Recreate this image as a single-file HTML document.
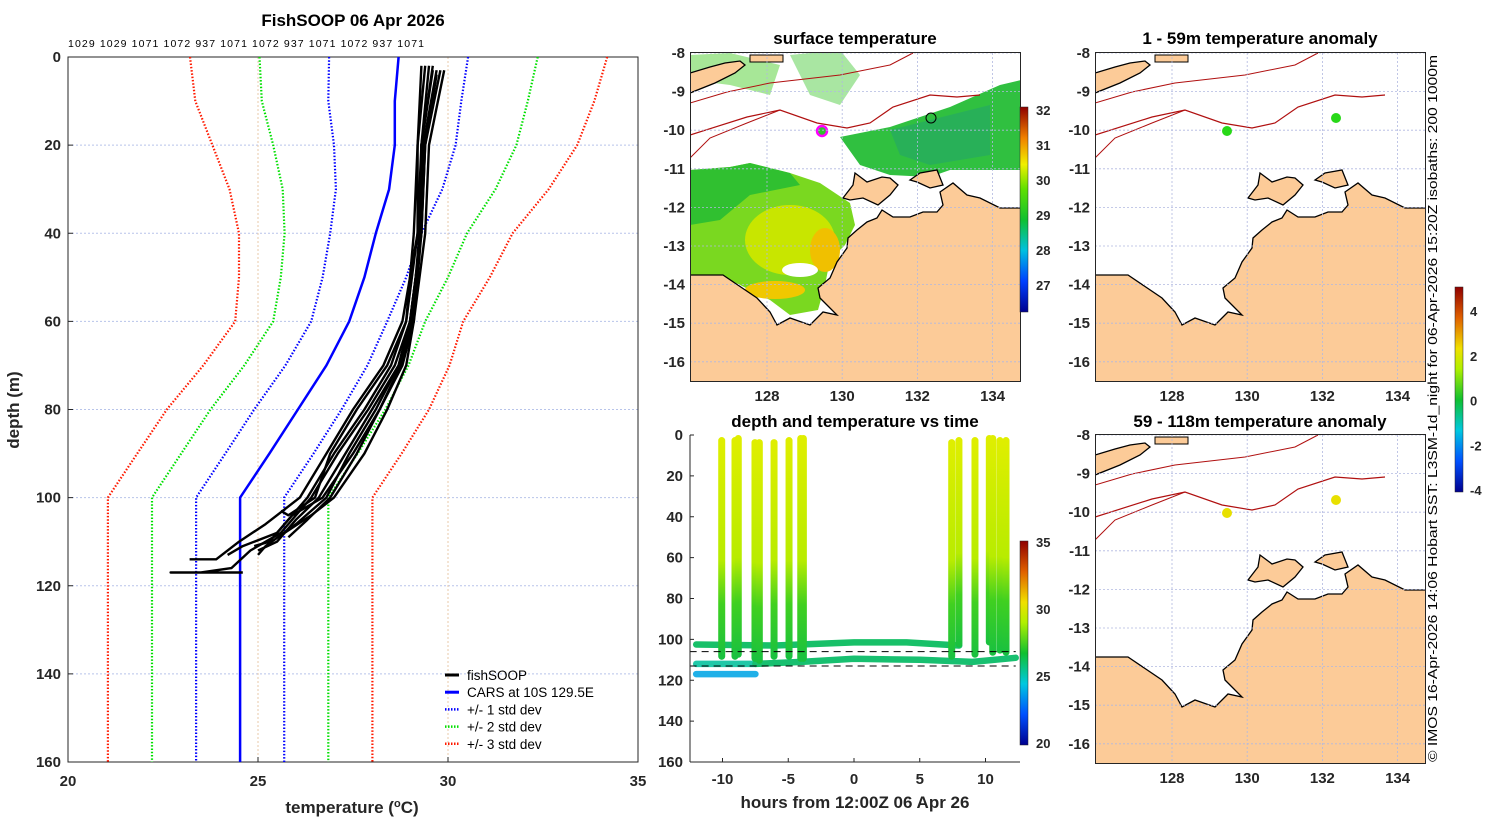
<!DOCTYPE html>
<html><head><meta charset="utf-8"><style>
html,body{margin:0;padding:0;background:#fff;}
svg{display:block;font-family:"Liberation Sans","DejaVu Sans",sans-serif;}
.tk{font-size:15px;font-weight:bold;fill:#262626;}
.ttl{font-size:17px;font-weight:bold;fill:#000;}
</style></head><body>
<svg id="fig" width="1500" height="820" viewBox="0 0 1500 820" xmlns="http://www.w3.org/2000/svg">
<defs>
<linearGradient id="sstcb" x1="0" y1="1" x2="0" y2="0">
<stop offset="0" stop-color="#00008f"/><stop offset="0.15" stop-color="#0040ff"/><stop offset="0.3" stop-color="#00c0e0"/><stop offset="0.45" stop-color="#10c030"/><stop offset="0.6" stop-color="#60e000"/><stop offset="0.72" stop-color="#f0f000"/><stop offset="0.85" stop-color="#f08000"/><stop offset="1" stop-color="#8f0000"/></linearGradient>
<linearGradient id="cbt" x1="0" y1="1" x2="0" y2="0">
<stop offset="0" stop-color="#00008f"/><stop offset="0.15" stop-color="#0050ff"/><stop offset="0.3" stop-color="#00c8e0"/><stop offset="0.45" stop-color="#10c030"/><stop offset="0.6" stop-color="#b0f000"/><stop offset="0.7" stop-color="#f0e000"/><stop offset="0.85" stop-color="#e06000"/><stop offset="1" stop-color="#8f0000"/></linearGradient>
<linearGradient id="castg" x1="0" y1="0" x2="0" y2="1">
<stop offset="0" stop-color="#e0ee00"/><stop offset="0.55" stop-color="#b8ec00"/><stop offset="0.75" stop-color="#40d020"/><stop offset="1" stop-color="#18c040"/></linearGradient>
<clipPath id="cm1"><rect x="0" y="7" width="331" height="330"/></clipPath>
</defs>
<g id="left"></g>
<g id="maps"></g>
<g id="tp"></g>
<text x="0" y="0" transform="translate(1437,762) rotate(-90)" font-size="13" textLength="707" lengthAdjust="spacingAndGlyphs" fill="#000">© IMOS 16-Apr-2026 14:06 Hobart SST: L3SM-1d_night for 06-Apr-2026 15:20Z isobaths: 200  1000m</text>
</svg>
<script>
const NS="http://www.w3.org/2000/svg";
function mk(tag,attrs,parent,txt){const e=document.createElementNS(NS,tag);for(const k in attrs)e.setAttribute(k,attrs[k]);if(txt!==undefined)e.textContent=txt;parent.appendChild(e);return e;}

// ===== Profile chart data =====
const castIds=["1029","1029","1071","1072","937","1071","1072","937","1071","1072","937","1071"];
const xTicks=[20,25,30,35];
const yTicks=[0,20,40,60,80,100,120,140,160];
const carsDepth=[0,10,20,30,40,50,60,70,80,90,100,160];
const carsMean=[28.7,28.6,28.6,28.45,28.1,27.8,27.4,26.8,26.05,25.3,24.53,24.53];
const carsStd=[1.83,1.75,1.6,1.4,1.2,1.1,1.0,1.08,1.15,1.16,1.16,1.16];
const prof1=[[2,29.6],[20,29.3],[40,29.3],[60,29.0],[70,28.7],[80,28.0],[90,27.3],[100,26.6],[105,26.0],[110,25.5],[112,25.0]];
const prof2=[[3,29.9],[20,29.5],[40,29.4],[60,29.1],[70,28.8],[80,28.2],[90,27.6],[100,26.9],[105,26.3],[109,25.8]];
const prof3=[[2,29.4],[20,29.2],[40,29.2],[60,28.9],[70,28.5],[80,27.8],[90,27.0],[100,26.3],[108,25.5],[111,24.6],[113,24.2]];
const prof4=[[4,29.7],[20,29.4],[40,29.3],[60,29.1],[70,28.9],[80,28.4],[90,27.8],[100,27.0],[104,26.4],[108,25.7]];
const prof5=[[2,29.5],[20,29.3],[40,29.2],[60,28.8],[70,28.3],[80,27.5],[90,26.8],[100,26.1],[106,25.2],[110,24.5],[114,23.9],[114,23.2]];
const prof6=[[3,29.8],[20,29.4],[40,29.3],[60,29.0],[70,28.6],[80,27.9],[90,27.1],[100,26.4],[108,25.6],[112,24.8],[116,24.3],[117,23.5],[117,22.7],[117,24.6]];
const prof7=[[2,29.3],[20,29.2],[40,29.1],[60,28.9],[70,28.4],[80,27.6],[90,26.9],[100,26.5],[104,25.8],[103,25.6]];
const prof8=[[3,29.6],[20,29.3],[40,29.3],[60,29.0],[70,28.7],[80,28.1],[90,27.4],[100,26.8],[106,26.0],[111,25.2],[113,25.0]];
const prof9=[[3,29.7],[20,29.35],[40,29.25],[60,29.05],[70,28.75],[80,28.2],[90,27.5],[100,26.7],[104,25.9],[110,25.3],[111,24.9]];
const profiles=[prof1,prof2,prof3,prof4,prof5,prof6,prof7,prof8,prof9];

const L={x0:68,x1:638,y0:57,y1:762,t0:20,t1:35,d0:0,d1:160};
const xT=t=>L.x0+(t-L.t0)/(L.t1-L.t0)*(L.x1-L.x0);
const yD=d=>L.y0+(d-L.d0)/(L.d1-L.d0)*(L.y1-L.y0);
const left=document.getElementById('left');
yTicks.slice(1,-1).forEach(d=>{const g=mk('line',{x1:L.x0,x2:L.x1,y1:yD(d),y2:yD(d),stroke:'#b8c4ea','stroke-dasharray':'2,2','stroke-width':1},left);});
xTicks.slice(1,-1).forEach(t=>{const g=mk('line',{x1:xT(t),x2:xT(t),y1:L.y0,y2:L.y1,stroke:'#e8c8a8','stroke-dasharray':'2,2','stroke-width':1},left);});
mk('rect',{x:L.x0,y:L.y0,width:L.x1-L.x0,height:L.y1-L.y0,fill:'none',stroke:'#262626','stroke-width':1},left);
const stdCols={1:'#0000ff',2:'#00e000',3:'#ff1a00'};
[3,2,1].forEach(k=>{[-1,1].forEach(s=>{
  const pts=carsDepth.map((d,i)=>xT(carsMean[i]+s*k*carsStd[i]).toFixed(1)+','+yD(d).toFixed(1)).join(' ');
  const p=mk('polyline',{points:pts,fill:'none',stroke:stdCols[k],'stroke-width':2.2,'stroke-dasharray':'1.5,1.8'},left);
  
});});
const cp=mk('polyline',{points:carsDepth.map((d,i)=>xT(carsMean[i]).toFixed(1)+','+yD(d).toFixed(1)).join(' '),fill:'none',stroke:'#0000ff','stroke-width':2.5},left);

profiles.forEach((pr,i)=>{const p=mk('polyline',{points:pr.map(q=>xT(q[1]).toFixed(1)+','+yD(q[0]).toFixed(1)).join(' '),fill:'none',stroke:'#000','stroke-width':2.4,'stroke-linejoin':'round'},left);
});
xTicks.forEach(t=>{mk('line',{x1:xT(t),x2:xT(t),y1:L.y1,y2:L.y1-5,stroke:'#262626'},left);const e=mk('text',{x:xT(t),y:786,'text-anchor':'middle',class:'tk'},left,t);});
yTicks.forEach(d=>{mk('line',{x1:L.x0,x2:L.x0+5,y1:yD(d),y2:yD(d),stroke:'#262626'},left);const e=mk('text',{x:61,y:yD(d)+5,'text-anchor':'end',class:'tk'},left,d);});
let e=mk('text',{x:353,y:26,'text-anchor':'middle',class:'ttl'},left,'FishSOOP 06 Apr 2026');
e=mk('text',{x:68,y:47,'font-size':10.5,fill:'#000',textLength:356,lengthAdjust:'spacing'},left,castIds.join(' '));
e=mk('text',{x:352,y:813,'text-anchor':'middle','font-size':17,'font-weight':'bold',fill:'#262626'},left,'');
e.innerHTML='temperature (<tspan baseline-shift="super" font-size="11">o</tspan>C)';
e=mk('text',{x:0,y:0,transform:'translate(19,410) rotate(-90)','text-anchor':'middle','font-size':17,'font-weight':'bold',fill:'#262626'},left,'depth (m)');
const leg=[['fishSOOP','#000',false],['CARS at 10S 129.5E','#0000ff',false],['+/- 1 std dev','#0000ff',true],['+/- 2 std dev','#00e000',true],['+/- 3 std dev','#ff1a00',true]];
leg.forEach((l,i)=>{const y=675+i*17.2;const g=mk('g',{},left);
 const a={x1:445,x2:459,y1:y,y2:y,stroke:l[1],'stroke-width':l[2]?2.5:3};if(l[2])a['stroke-dasharray']='1.5,1.5';mk('line',a,g);
 mk('text',{x:467,y:y+5,'font-size':13.5,fill:'#000'},g,l[0]);});

// ===== Maps =====
const maps=document.getElementById('maps');
const mainland=[[0,230],[33,230],[67,253],[80,267],[87,280],[100,273],[120,280],[133,267],[147,270],[130,253],[128,243],[140,233],[147,217],[157,203],[158,193],[167,185],[177,177],[187,173],[192,165],[203,172],[220,172],[233,167],[247,167],[253,160],[250,147],[263,138],[277,150],[290,153],[310,163],[331,163],[331,340],[0,340]];
const melville=[[153,153],[163,140],[165,128],[177,137],[192,132],[200,133],[208,140],[200,150],[188,160],[173,153],[160,155]];
const cobourg=[[220,135],[230,128],[247,125],[253,140],[240,143],[227,137]];
const timor=[[0,28],[20,22],[35,18],[50,16],[55,20],[45,28],[25,38],[0,48]];
const iso1=[[0,90],[57,72],[90,65],[127,78],[157,83],[180,78],[203,62],[240,50],[267,52],[290,50]];
const iso2=[[0,58],[37,47],[80,38],[150,30],[200,20],[223,8]];
const iso3=[[0,113],[20,93],[57,78],[90,65]];
const pstr=a=>a.map(p=>p.join(',')).join(' ');
function drawMap(ox,oy,name,extra){
 const g=mk('g',{transform:`translate(${ox},${oy})`,'clip-path':'url(#cm1)'},maps);
 if(extra)extra(g);
 [iso2,iso3].forEach(a=>mk('polyline',{points:pstr(a),fill:'none',stroke:'#b01010','stroke-width':1},g));
 mk('polyline',{points:pstr(iso1),fill:'none',stroke:'#b01010','stroke-width':1.2},g);
 [mainland,melville,cobourg,timor].forEach(a=>mk('polygon',{points:pstr(a),fill:'#fccb98',stroke:'#000','stroke-width':1.3},g));
 mk('rect',{x:60,y:10,width:33,height:7,fill:'#fccb98',stroke:'#000'},g);
 for(let i=0;i<4;i++){const x=77+i*75.2;mk('line',{x1:x,x2:x,y1:0,y2:337,stroke:'#b0b8e0','stroke-dasharray':'2,2','stroke-width':0.8},g);}
 for(let j=0;j<9;j++){const y=8+j*38.6;mk('line',{x1:0,x2:331,y1:y,y2:y,stroke:'#b0b8e0','stroke-dasharray':'2,2','stroke-width':0.8},g);}
 mk('rect',{x:0.5,y:7.5,width:330,height:329,fill:'none',stroke:'#262626'},g);
}
function mapTicks(ox,oy,lonLabels){
 const lats=[-8,-9,-10,-11,-12,-13,-14,-15,-16];
 lats.forEach((v,j)=>{const t=mk('text',{x:ox-5,y:oy+8+j*38.6+5,'text-anchor':'end',class:'tk'},maps,v);});
 if(lonLabels)[128,130,132,134].forEach((v,i)=>{const t=mk('text',{x:ox+77+i*75.2,y:oy+356,'text-anchor':'middle',class:'tk'},maps,v);});
}
drawMap(690,45,'surface-temperature-map',g=>{
 mk('polygon',{points:'0,125 40,122 60,118 100,128 130,138 160,158 165,180 155,200 140,215 135,240 128,265 100,270 80,255 40,235 0,235',fill:'#7ad820'},g);
 mk('polygon',{points:'0,125 40,122 60,118 100,128 110,140 60,150 30,175 0,180',fill:'#30c030'},g);
 mk('ellipse',{cx:100,cy:195,rx:45,ry:35,fill:'#c8e600'},g);
 mk('ellipse',{cx:135,cy:205,rx:15,ry:22,fill:'#f0c000'},g);
 mk('ellipse',{cx:85,cy:245,rx:30,ry:9,fill:'#f0c800'},g);
 mk('ellipse',{cx:110,cy:225,rx:18,ry:7,fill:'#ffffff'},g);
 mk('polygon',{points:'150,92 200,82 260,62 310,40 331,35 331,125 260,125 240,132 200,130 170,120',fill:'#30c040'},g);
 mk('polygon',{points:'200,85 260,70 300,60 300,110 240,120 210,110',fill:'#28b058'},g);
 mk('polygon',{points:'0,10 40,8 90,20 80,50 40,40 0,35',fill:'#50d030',opacity:0.5},g);
 mk('polygon',{points:'100,10 150,5 170,30 150,60 120,50',fill:'#40c830',opacity:0.45},g);
 mk('circle',{cx:132,cy:86,r:5,fill:'#30c030',stroke:'#ff00ff','stroke-width':2.5},g);
 mk('circle',{cx:241,cy:73,r:5,fill:'none',stroke:'#000','stroke-width':1},g);
});
mapTicks(690,45,true);
e=mk('text',{x:855,y:44,'text-anchor':'middle',class:'ttl'},maps,'surface temperature');
mk('rect',{x:1020,y:107,width:8,height:205,fill:'url(#sstcb)',stroke:'#262626','stroke-width':0.5},maps);
[32,31,30,29,28,27].forEach(v=>{const y=110+(32-v)*35;const t=mk('text',{x:1036,y:y+5,'font-size':13,'font-weight':'bold',fill:'#262626'},maps,v);});
drawMap(1095,45,'anomaly-map-1-59m',g=>{});
mk('circle',{cx:1095+132,cy:45+86,r:5,fill:'#28d818'},maps);
mk('circle',{cx:1095+241,cy:45+73,r:5,fill:'#28d818'},maps);
mapTicks(1095,45,true);
e=mk('text',{x:1260,y:44,'text-anchor':'middle',class:'ttl'},maps,'1 - 59m temperature anomaly');
drawMap(1095,427,'anomaly-map-59-118m',g=>{});
mk('circle',{cx:1095+132,cy:427+86,r:5,fill:'#e8e000'},maps);
mk('circle',{cx:1095+241,cy:427+73,r:5,fill:'#e8e000'},maps);
mapTicks(1095,427,true);
e=mk('text',{x:1260,y:427,'text-anchor':'middle',class:'ttl'},maps,'59 - 118m temperature anomaly');
mk('rect',{x:1455,y:287,width:8,height:205,fill:'url(#cbt)',stroke:'#262626','stroke-width':0.5},maps);
[4,2,0,-2,-4].forEach(v=>{const y=311+(4-v)*22.4;const t=mk('text',{x:1470,y:y+5,'font-size':13,'font-weight':'bold',fill:'#262626'},maps,v);});

// ===== Time-depth chart =====
const castHours=[-10.06,-9.05,-8.8,-7.53,-7.2,-6.08,-4.94,-4.05,-3.85,7.43,7.98,9.2,10.29,10.55,11.1,11.56];
const castTop=[1,1,0,2,2,2,1,0,0,2,1,1,0,0,1,1];
const castBottom=[110,110,109,111,112,110,110,111,111,110,104,109,103,108,107,108];
const trackUpperH=[-12,-6,0,4,8];
const trackUpperD=[102.5,103,101.5,101.5,103];
const trackLowerH=[-7.5,-4,0,5,9,12.3];
const trackLowerD=[112,111,109.5,110,111,109];
const trackBlueH=[-12,-7.5];
const trackBlueD=[117,117];
const tpX=[-10,-5,0,5,10];
const tpY=[0,20,40,60,80,100,120,140,160];
const T={x0:690,x1:1020,y0:435,y1:762};
const hX=h=>854+h*13.15;
const dY=d=>T.y0+d*(T.y1-T.y0)/160;
const tp=document.getElementById('tp');
const trk=(H,D,c,n)=>{const p=mk('polyline',{points:H.map((h,i)=>hX(h).toFixed(1)+','+dY(D[i]).toFixed(1)).join(' '),fill:'none',stroke:c,'stroke-width':6.5,'stroke-linecap':'round'},tp);};
trk(trackUpperH,trackUpperD,'#18c068','upper-track');
trk([-12,-7.5],[112,112],'#20c8a8','lower-left-track');
trk(trackLowerH,trackLowerD,'#18c070','lower-track');
trk(trackBlueH,trackBlueD,'#20b0e8','blue-track');
castHours.forEach((h,i)=>{const r=mk('rect',{x:hX(h)-3.5,y:dY(castTop[i]),width:7,height:dY(castBottom[i])-dY(castTop[i]),rx:3.5,fill:'url(#castg)'},tp);});
mk('line',{x1:hX(-12.5),x2:hX(12.3),y1:dY(106),y2:dY(106),stroke:'#000','stroke-dasharray':'7,5','stroke-width':1},tp);
mk('line',{x1:hX(-12.5),x2:hX(12.3),y1:dY(113),y2:dY(113),stroke:'#000','stroke-dasharray':'7,5','stroke-width':1},tp);
mk('line',{x1:T.x0,x2:T.x0,y1:T.y0,y2:T.y1,stroke:'#262626'},tp);
mk('line',{x1:T.x0,x2:T.x1,y1:T.y1,y2:T.y1,stroke:'#262626'},tp);
tpY.forEach(d=>{mk('line',{x1:T.x0,x2:T.x0+4,y1:dY(d),y2:dY(d),stroke:'#262626'},tp);const t=mk('text',{x:683,y:dY(d)+5,'text-anchor':'end',class:'tk'},tp,d);});
tpX.forEach(h=>{mk('line',{x1:hX(h),x2:hX(h),y1:T.y1,y2:T.y1-4,stroke:'#262626'},tp);const t=mk('text',{x:hX(h),y:784,'text-anchor':'middle',class:'tk'},tp,h);});
e=mk('text',{x:855,y:808,'text-anchor':'middle','font-size':17,'font-weight':'bold',fill:'#262626'},tp,'hours from 12:00Z 06 Apr 26');
e=mk('text',{x:855,y:427,'text-anchor':'middle',class:'ttl'},tp,'depth and temperature vs time');
mk('rect',{x:1020,y:541,width:8,height:204,fill:'url(#cbt)',stroke:'#262626','stroke-width':0.5},tp);
[35,30,25,20].forEach(v=>{const y=542+(35-v)*13.4;const t=mk('text',{x:1036,y:y+5,'font-size':13,'font-weight':'bold',fill:'#262626'},tp,v);});
</script>
</body></html>
